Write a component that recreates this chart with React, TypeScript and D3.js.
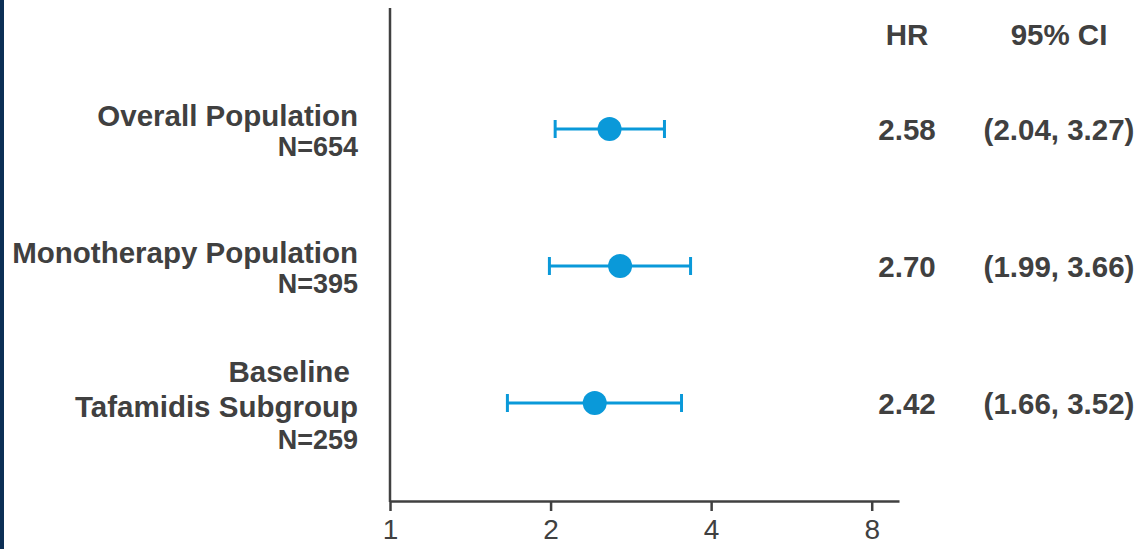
import React, { useEffect, useRef } from "react";
import * as d3 from "d3";

const groups = ["Overall Population", "Monotherapy Population", "Baseline Tafamidis Subgroup"];
const labelLines = [["Overall Population"], ["Monotherapy Population"], ["Baseline ", "Tafamidis Subgroup"]];
const nValues = [654, 395, 259];
const hr = [2.58, 2.7, 2.42];
const ciLow = [2.04, 1.99, 1.66];
const ciHigh = [3.27, 3.66, 3.52];
const xTicks = [1, 2, 4, 8];

const W = 1138;
const H = 549;
const FONT = "'Liberation Sans', Arial, sans-serif";
const TEXT = "#404040";
const BLUE = "#0a99d9";

const App = () => {
  const svgRef = useRef<SVGSVGElement>(null);

  useEffect(() => {
    const svg = d3.select(svgRef.current);
    svg.selectAll("*").remove();

    const x = d3.scaleLog().domain([1, 9]).range([390, 899]);
    const y = d3.scalePoint<string>().domain(groups).range([129, 403]);

    // dark strip on the left edge
    svg.append("rect").attr("x", 0).attr("y", 0).attr("width", 4).attr("height", H).attr("fill", "#0c2f55");

    // axes
    svg
      .append("line")
      .attr("x1", x(1))
      .attr("x2", x(1))
      .attr("y1", 8)
      .attr("y2", 502)
      .attr("stroke", TEXT)
      .attr("stroke-width", 2.5);

    const xAxis = svg
      .append("g")
      .attr("transform", "translate(0,501)")
      .call(d3.axisBottom(x).tickValues(xTicks).tickFormat(d3.format("d")).tickSize(10).tickSizeOuter(0).tickPadding(8));
    xAxis.select(".domain").attr("stroke", TEXT).attr("stroke-width", 2.5);
    xAxis.selectAll(".tick line").attr("stroke", TEXT).attr("stroke-width", 2.5);
    xAxis
      .selectAll(".tick text")
      .attr("fill", TEXT)
      .attr("font-family", FONT)
      .attr("font-size", 28)
      .attr("dy", "0.71em");

    // CI whiskers and points
    const rows = svg
      .append("g")
      .selectAll("g")
      .data(groups)
      .join("g")
      .attr("transform", (d) => `translate(0,${y(d)})`);

    rows
      .append("line")
      .attr("x1", (d, i) => x(ciLow[i]))
      .attr("x2", (d, i) => x(ciHigh[i]))
      .attr("stroke", BLUE)
      .attr("stroke-width", 3);
    rows
      .append("line")
      .attr("x1", (d, i) => x(ciLow[i]))
      .attr("x2", (d, i) => x(ciLow[i]))
      .attr("y1", -9)
      .attr("y2", 9)
      .attr("stroke", BLUE)
      .attr("stroke-width", 3);
    rows
      .append("line")
      .attr("x1", (d, i) => x(ciHigh[i]))
      .attr("x2", (d, i) => x(ciHigh[i]))
      .attr("y1", -9)
      .attr("y2", 9)
      .attr("stroke", BLUE)
      .attr("stroke-width", 3);
    rows
      .append("circle")
      .attr("cx", (d, i) => x(hr[i]))
      .attr("r", 12)
      .attr("fill", BLUE);

    // group labels
    rows.each(function (d, i) {
      const g = d3.select(this);
      const lines = labelLines[i];
      const lineH = lines.length > 1 ? 35 : 33;
      const startY = lines.length > 1 ? -21 : -3;
      lines.forEach((t, j) => {
        g.append("text")
          .attr("x", 358)
          .attr("y", startY + j * lineH)
          .attr("text-anchor", "end")
          .style("white-space", "pre")
          .attr("font-family", FONT)
          .attr("font-weight", "bold")
          .attr("font-size", 29.5)
          .attr("fill", TEXT)
          .text(t);
      });
      g.append("text")
        .attr("x", 358)
        .attr("y", startY + lines.length * lineH - 3)
        .attr("text-anchor", "end")
        .attr("font-family", FONT)
        .attr("font-weight", "bold")
        .attr("font-size", 27)
        .attr("fill", TEXT)
        .text(`N=${nValues[i]}`);
    });

    // HR and CI columns
    const colText = (sel: any, cx: number) =>
      sel
        .attr("x", cx)
        .attr("text-anchor", "middle")
        .attr("font-family", FONT)
        .attr("font-weight", "bold")
        .attr("font-size", 29.5)
        .attr("fill", TEXT);

    colText(svg.append("text").attr("y", 45), 907).text("HR");
    colText(svg.append("text").attr("y", 45), 1059).text("95% CI");
    colText(rows.append("text").attr("y", 11), 907).text((d: string, i: number) => hr[i].toFixed(2));
    colText(rows.append("text").attr("y", 11), 1059).text(
      (d: string, i: number) => `(${ciLow[i].toFixed(2)}, ${ciHigh[i].toFixed(2)})`
    );
  }, []);

  return (
    <svg
      ref={svgRef}
      width={W}
      height={H}
      style={{ position: "absolute", left: 0, top: 0, background: "#fff" }}
    />
  );
};

export default App;
